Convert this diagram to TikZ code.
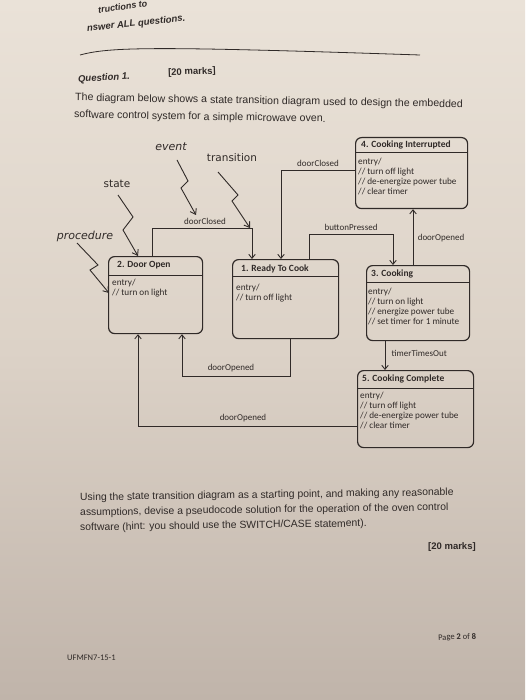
\documentclass[tikz,border=0pt]{standalone}
\usepackage{fontspec}
\setmainfont{Liberation Sans}
\newfontfamily\diag{Carlito}
\newfontfamily\pagefont{Carlito}
\newfontfamily\handfont{DejaVu Sans}
\usetikzlibrary{arrows.meta}
\definecolor{ink}{RGB}{48,42,40}
\definecolor{papertop}{RGB}{234,226,216}
\definecolor{papermid}{RGB}{220,210,199}
\definecolor{paperbot}{RGB}{192,180,170}
\begin{document}
\begin{tikzpicture}[x=1pt,y=-1pt,
  lbl/.style={font=\diag\fontsize{9}{10}\selectfont, text=ink, inner sep=0.5pt},
  conn/.style={draw=ink, line width=0.9pt, -{Straight Barb[length=4pt,width=6.5pt]}},
  bolt/.style={draw=ink, line width=0.9pt, line join=miter, -{Straight Barb[length=5pt,width=7pt]}},
  stbox/.style={draw=ink, line width=1.2pt, rounded corners=6pt, anchor=north west, inner sep=0pt},
  ttl/.style={font=\diag\bfseries\fontsize{9.5}{11}\selectfont, text=ink, anchor=west, inner sep=0pt},
  body/.style={font=\diag\fontsize{9.2}{10.3}\selectfont, text=ink, anchor=north west, align=left, inner sep=0pt},
  hand/.style={font=\handfont\fontsize{10.5}{12}\selectfont, text=ink, inner sep=0pt},
  handit/.style={font=\handfont\itshape\fontsize{11}{12}\selectfont, text=ink, inner sep=0pt},
  para/.style={font=\fontsize{10.4}{12}\selectfont, text=ink, anchor=west, inner sep=0pt},
  hdr/.style={draw=ink, line width=0.9pt}
]
\useasboundingbox (0,0) rectangle (525,700);
\shade[top color=papertop, bottom color=paperbot, middle color=papermid] (0,0) rectangle (525,700);

% ---- page header ----
\node[para, font=\bfseries\itshape\fontsize{9}{10}\selectfont, rotate=8] (instr) at (98,10) {tructions to};
\node[para, font=\bfseries\itshape\fontsize{9.5}{10}\selectfont, rotate=6] (answer) at (87,29) {nswer ALL questions.};
\coordinate (ruleA) at (80,55);
\coordinate (ruleB) at (420,55);
\draw[ink, line width=0.8pt] (ruleA) .. controls (110,47) and (150,46) .. (ruleB);
\node[para, font=\bfseries\itshape\fontsize{9.5}{11}\selectfont, rotate=4] (q1) at (78,80) {Question 1.};
\node[para, font=\bfseries\fontsize{9.5}{11}\selectfont, rotate=2] (marks1) at (168,73) {[20 marks]};
\node[para, font=\fontsize{10.6}{12}\selectfont, rotate=-1] (desc1) at (75,98) {The diagram below shows a state transition diagram used to design the embedded};
\node[para, font=\fontsize{10.6}{12}\selectfont, rotate=-1] (desc2) at (74,115) {software control system for a simple microwave oven.};

% ---- annotation labels ----
\node[handit] (ev) at (171,147) {event};
\node[hand] (tr) at (232,158) {transition};
\node[hand] (st) at (117,184) {state};
\node[handit] (pr) at (85,236) {procedure};

% ---- states ----
% 4. Cooking Interrupted
\node[stbox, minimum width=112pt, minimum height=71pt] (s4) at (355,137) {};
\draw[hdr] (s4.west |- 0,152) -- (s4.east |- 0,152);
\node[ttl] (t4) at (361,145) {4. Cooking Interrupted};
\node[body] (b4) at (358,157.5) {entry/\\// turn off light\\// de-energize power tube\\// clear timer};

% 2. Door Open
\node[stbox, minimum width=94pt, minimum height=77pt] (s2) at (108,256) {};
\draw[hdr] (s2.west |- 0,275) -- (s2.east |- 0,275);
\node[ttl] (t2) at (117,265.5) {2. Door Open};
\node[body] (b2) at (112,278.5) {entry/\\// turn on light};

% 1. Ready To Cook
\node[stbox, minimum width=106pt, minimum height=79pt] (s1) at (232,259) {};
\draw[hdr] (s1.west |- 0,276) -- (s1.east |- 0,276);
\node[ttl] (t1) at (241,269) {1. Ready To Cook};
\node[body] (b1) at (236,283.5) {entry/\\// turn off light};

% 3. Cooking
\node[stbox, minimum width=103pt, minimum height=75pt] (s3) at (366,265) {};
\draw[hdr] (s3.west |- 0,282) -- (s3.east |- 0,282);
\node[ttl] (t3) at (371,273.5) {3. Cooking};
\node[body] (b3) at (368,287.5) {entry/\\// turn on light\\// energize power tube\\// set timer for 1 minute};

% 5. Cooking Complete
\node[stbox, minimum width=116pt, minimum height=77pt] (s5) at (357,370) {};
\draw[hdr] (s5.west |- 0,388) -- (s5.east |- 0,388);
\node[ttl] (t5) at (362,378.5) {5. Cooking Complete};
\node[body] (b5) at (360,391.5) {entry/\\// turn off light\\// de-energize power tube\\// clear timer};

% ---- transitions ----
\draw[conn] (s2.north -| 152,0) |- (252,228) -- (s1.north -| 252,0);
\node[lbl] (l21) at (205,221) {doorClosed};

\draw[conn] (s4.west |- 0,170) -| (s1.north -| 281,0);
\node[lbl] (l41) at (318,163) {doorClosed};

\draw[conn] (s1.north -| 309,0) |- (393,234) -- (s3.north -| 393,0);
\node[lbl] (l13) at (351,227) {buttonPressed};

\draw[conn] (s3.north -| 413,0) -- (s4.south -| 413,0);
\node[lbl] (l34) at (441,238) {doorOpened};

\draw[conn] (s1.south -| 290,0) |- (182,376) -- (s2.south -| 182,0);
\node[lbl] (l12) at (231,368) {doorOpened};

\draw[conn] (s5.west |- 0,426) -| (s2.south -| 138,0);
\node[lbl] (l52) at (243,418) {doorOpened};

\draw[conn] (s3.south -| 385,0) -- (s5.north -| 385,0);
\node[lbl, anchor=west] (l35) at (391,353) {timerTimesOut};

% ---- annotation bolts ----
\coordinate (evS) at (177,160);
\coordinate (evT) at (196,215);
\draw[bolt] (evS) -- (188,181) -- (181,188) -- (evT);
\coordinate (trS) at (218,172);
\coordinate (trT) at (250,228);
\draw[bolt] (trS) -- (238,195) -- (232,201) -- (trT);
\coordinate (stS) at (118,195);
\draw[bolt] (stS) -- (133,217) -- (123,230) -- (s2.north -| 138,0);
\coordinate (prS) at (77,243);
\coordinate (prT) at (109,293);
\draw[bolt] (prS) -- (98,265) -- (90,270) -- (prT);

% ---- question text ----
\node[para, rotate=0.8] (p1) at (80,498) {Using the state transition diagram as a starting point, and making any reasonable};
\node[para, rotate=0.8] (p2) at (80,513) {assumptions, devise a pseudocode solution for the operation of the oven control};
\node[para, rotate=0.8] (p3) at (80,528) {software (hint: you should use the SWITCH/CASE statement).};
\node[para, font=\bfseries\fontsize{9.5}{11}\selectfont] (marks2) at (428,547) {[20 marks]};
\node[para, font=\pagefont\fontsize{8.5}{10}\selectfont, rotate=2] (pg) at (438,638) {Page \textbf{2} of \textbf{8}};
\node[para, font=\pagefont\fontsize{8.5}{10}\selectfont] (code) at (67,658) {UFMFN7-15-1};
\end{tikzpicture}
\end{document}
